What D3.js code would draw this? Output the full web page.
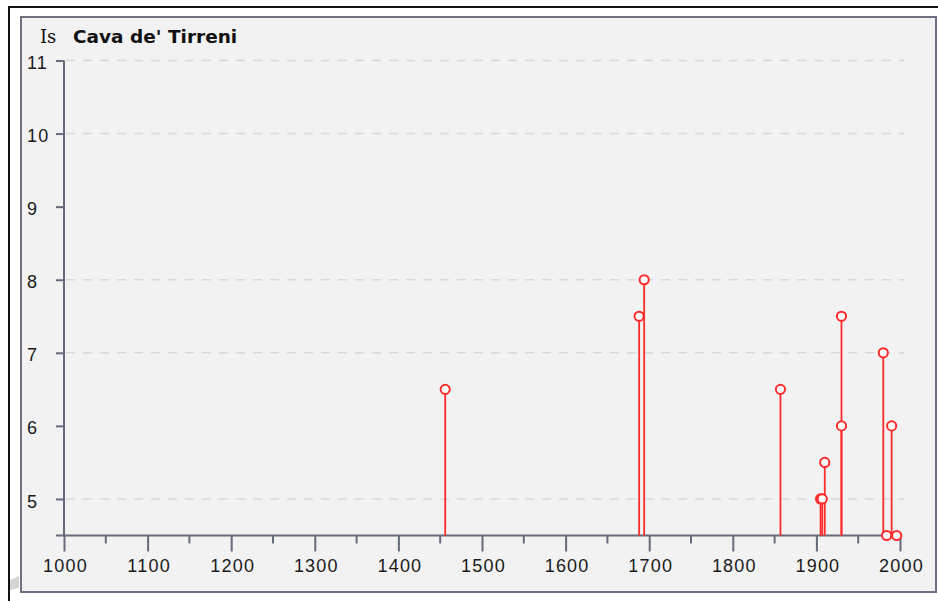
<!DOCTYPE html>
<html>
<head>
<meta charset="utf-8">
<script src="https://cdn.jsdelivr.net/npm/d3@7"></script>
<style>
  body { margin: 0; background: #fff; }
  svg { display: block; font-family: "DejaVu Sans", Verdana, sans-serif; }
</style>
</head>
<body>
<div id="chart"></div>
<script>
// Intensity history (Is) for Cava de' Tirreni
var years     = [1456, 1688, 1694, 1857, 1905, 1907, 1910, 1930, 1930, 1980, 1984, 1990, 1996];
var intensity = [6.5,  7.5,  8,    6.5,  5,    5,    5.5,  7.5,  6,    7,    4.5,  6,    4.5];

var xTicks = [1000, 1100, 1200, 1300, 1400, 1500, 1600, 1700, 1800, 1900, 2000];
var xMinorTicks = [1050, 1150, 1250, 1350, 1450, 1550, 1650, 1750, 1850, 1950];
var yTicks = [5, 6, 7, 8, 9, 10, 11];
var gridValues = [5, 7, 8, 10, 11]; // the reference only shows these dashed lines

var title = "Cava de' Tirreni";
var yLabel = "Is";

var events = years.map(function(y, i) { return { year: y, is: intensity[i] }; });

var W = 938, H = 601;

var svg = d3.select("#chart").append("svg")
    .attr("width", W)
    .attr("height", H);

// window-ish frame
svg.append("path")
    .attr("d", "M9,601 L9,7 L938,7")
    .attr("fill", "none")
    .attr("stroke", "#111")
    .attr("stroke-width", 2);

svg.append("path")
    .attr("d", "M10,580 L19,576 L19,588 L10,590 Z")
    .attr("fill", "#a0a0a0")
    .attr("opacity", 0.45);

svg.append("rect")
    .attr("x", 21)
    .attr("y", 17)
    .attr("width", 915)
    .attr("height", 575)
    .attr("fill", "#f2f2f2")
    .attr("stroke", "#6e7182")
    .attr("stroke-width", 2);

// scales
var x = d3.scaleLinear().domain([1000, 2000]).range([64, 900]);
var y = d3.scaleLinear().domain([4.5, 11]).range([535.5, 60.5]);

// grid
svg.append("g")
    .selectAll("line")
    .data(gridValues)
    .join("line")
    .attr("x1", 66)
    .attr("x2", 904)
    .attr("y1", d => y(d))
    .attr("y2", d => y(d))
    .attr("stroke", "#d9d9d9")
    .attr("stroke-width", 1.5)
    .attr("stroke-dasharray", "9,8");

var axisColor = "#666b7c";

// y axis
var yAxis = d3.axisLeft(y)
    .tickValues(yTicks)
    .tickSize(8)
    .tickFormat(d3.format("d"));

var gy = svg.append("g")
    .attr("transform", "translate(64,0)")
    .call(yAxis);
gy.select(".domain").remove();
gy.selectAll(".tick line").attr("stroke", axisColor).attr("stroke-width", 2);
gy.selectAll(".tick text")
    .attr("x", -37)
    .attr("dy", "0.45em")
    .attr("text-anchor", "start")
    .attr("fill", "#1a1a1a")
    .style("font-size", "18px")
    .style("letter-spacing", "1.2px");

svg.append("line")
    .attr("x1", 64).attr("x2", 64)
    .attr("y1", y(11)).attr("y2", y(4.5))
    .attr("stroke", axisColor)
    .attr("stroke-width", 2);

// x axis
var xAxis = d3.axisBottom(x)
    .tickValues(xTicks)
    .tickSize(16)
    .tickPadding(8)
    .tickFormat(d3.format("d"));

var gx = svg.append("g")
    .attr("transform", "translate(0," + y(4.5) + ")")
    .call(xAxis);
gx.select(".domain").remove();
gx.selectAll(".tick line").attr("stroke", axisColor).attr("stroke-width", 2);
gx.selectAll(".tick text")
    .attr("x", 1)
    .attr("fill", "#1a1a1a")
    .style("font-size", "18px")
    .style("letter-spacing", "1.2px");

svg.append("g")
    .selectAll("line")
    .data(xMinorTicks)
    .join("line")
    .attr("x1", d => x(d)).attr("x2", d => x(d))
    .attr("y1", y(4.5)).attr("y2", y(4.5) + 8)
    .attr("stroke", axisColor)
    .attr("stroke-width", 2);

svg.append("line")
    .attr("x1", 56).attr("x2", x(2000))
    .attr("y1", y(4.5)).attr("y2", y(4.5))
    .attr("stroke", axisColor)
    .attr("stroke-width", 2);

// stems
var red = "#ff2b2b";
svg.append("g")
    .selectAll("line")
    .data(events)
    .join("line")
    .attr("x1", d => x(d.year)).attr("x2", d => x(d.year))
    .attr("y1", d => y(d.is)).attr("y2", y(4.5))
    .attr("stroke", red)
    .attr("stroke-width", 1.8);

svg.append("g")
    .selectAll("circle")
    .data(events)
    .join("circle")
    .attr("cx", d => x(d.year))
    .attr("cy", d => y(d.is))
    .attr("r", 4.6)
    .attr("fill", "#fff")
    .attr("stroke", red)
    .attr("stroke-width", 2);

// title
svg.append("text")
    .attr("x", 40)
    .attr("y", 43)
    .attr("fill", "#111")
    .style("font-family", "'DejaVu Serif', serif")
    .style("font-size", "18px")
    .text(yLabel);

svg.append("text")
    .attr("x", 73)
    .attr("y", 43)
    .attr("fill", "#111")
    .style("font-size", "18.5px")
    .style("font-weight", "bold")
    .text(title);
</script>
</body>
</html>
